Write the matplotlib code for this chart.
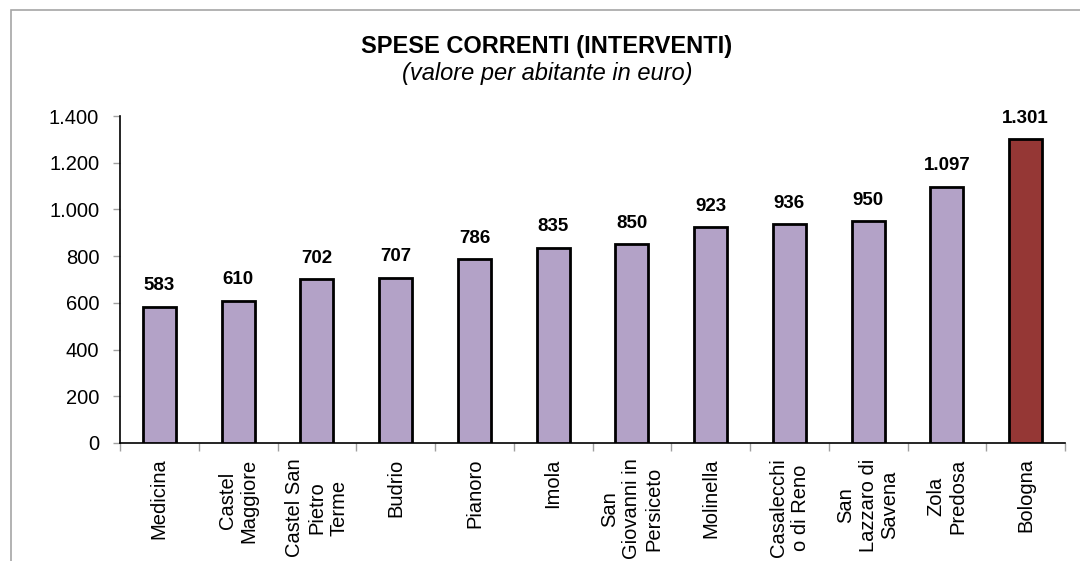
import matplotlib
matplotlib.use("Agg")
import matplotlib.pyplot as plt
from matplotlib.patches import Rectangle

categories = ["Medicina", "Castel\nMaggiore", "Castel San\nPietro\nTerme", "Budrio", "Pianoro",
              "Imola", "San\nGiovanni in\nPersiceto", "Molinella", "Casalecchi\no di Reno",
              "San\nLazzaro di\nSavena", "Zola\nPredosa", "Bologna"]
values = [583, 610, 702, 707, 786, 835, 850, 923, 936, 950, 1097, 1301]
yticks = [0, 200, 400, 600, 800, 1000, 1200, 1400]
title = "SPESE CORRENTI (INTERVENTI)"
subtitle = "(valore per abitante in euro)"

plt.rcParams['font.family'] = ['Liberation Sans', 'DejaVu Sans']

def fmt(v):
    return f"{v:,}".replace(",", ".")

fig = plt.figure(figsize=(10.8, 5.61), dpi=100)
ax = fig.add_axes([120/1080, 1 - 443/561, 945/1080, (443-116)/561])

colors = ["#B3A2C7"] * (len(values) - 1) + ["#953735"]
x = list(range(len(values)))
bars = ax.bar(x, values, width=0.42, color=colors, edgecolor="black", linewidth=2.0, zorder=3)

for xi, v in zip(x, values):
    ax.annotate(fmt(v), (xi, v), xytext=(0, 9), textcoords="offset points",
                ha="center", va="bottom", fontsize=13.5, fontweight="bold")

ax.set_xlim(-0.5, len(values) - 0.5)
ax.set_ylim(0, 1400)
ax.set_yticks(yticks)
ax.set_yticklabels([fmt(t) for t in yticks], fontsize=14.5)

ax.set_xticks(x)
ax.set_xticklabels(categories, rotation=90, fontsize=14.5, va="top", ha="center",
                   multialignment="center")
ax.tick_params(axis="x", which="major", length=0, pad=11)
ax.set_xticks([i - 0.5 for i in range(len(values) + 1)], minor=True)
ax.tick_params(axis="x", which="minor", length=6, color="#A0A0A0", width=1)
ax.tick_params(axis="y", length=5, color="#A0A0A0", width=1, pad=10)

for s in ["top", "right"]:
    ax.spines[s].set_visible(False)
ax.spines["left"].set_linewidth(1.2)
ax.spines["bottom"].set_linewidth(1.2)

fig.text(547/1080, 1 - 46/561, title, ha="center", va="center", fontsize=17, fontweight="bold")
fig.text(547/1080, 1 - 74/561, subtitle, ha="center", va="center", fontsize=17, style="italic")

border = Rectangle((11/1080, -0.2), 1.2, 1 - 10/561 + 0.2, transform=fig.transFigure,
                   fill=False, edgecolor="#A6A6A6", linewidth=1.2)
fig.patches.append(border)

fig.savefig("out.png", dpi=100)
